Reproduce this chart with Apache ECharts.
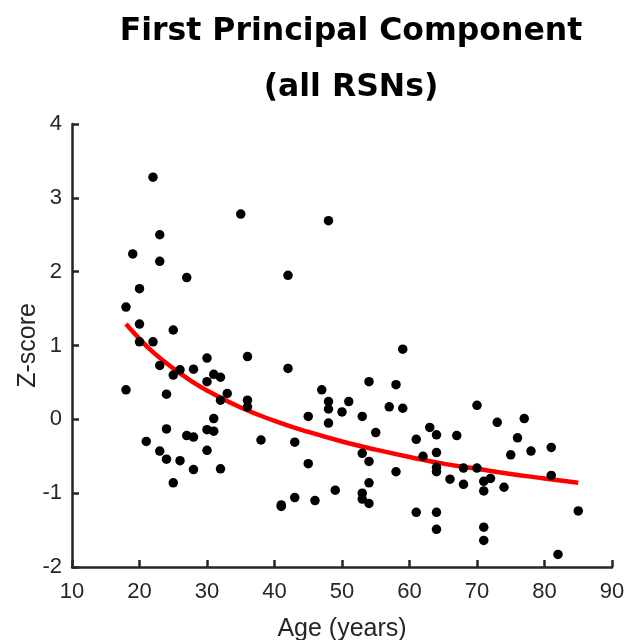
<!DOCTYPE html>
<html>
<head>
<meta charset="utf-8">
<script src="https://cdn.jsdelivr.net/npm/echarts@6/dist/echarts.min.js"></script>
<style>
  html, body { margin: 0; padding: 0; background: #ffffff; }
  #chart { width: 627px; height: 640px; }
</style>
</head>
<body>
<div id="chart"></div>
<script>
// Subject ages (years) and first principal component Z-scores
const ages = [
  22, 35, 48, 23, 19, 23, 42, 27, 20, 18,
  20, 25, 20, 22, 59, 30, 36, 23, 42, 28,
  26, 31, 25, 32, 30, 54, 58, 18, 47, 33,
  24, 36, 32, 48, 51, 36, 57, 70, 59, 48,
  50, 45, 53, 31, 77, 73, 48, 63, 24, 30,
  31, 55, 64, 67, 27, 28, 76, 61, 38, 21,
  43, 81, 30, 23, 78, 64, 53, 75, 62, 24,
  26, 54, 45, 64, 68, 70, 32, 28, 64, 58,
  81, 72, 66, 71, 25, 54, 68, 74, 49, 71,
  53, 43, 53, 46, 54, 41, 41, 85, 61, 64,
  71, 64, 71, 82
];
const zScores = [
  3.28, 2.78, 2.69, 2.50, 2.24, 2.14, 1.95, 1.92, 1.77, 1.52,
  1.29, 1.21, 1.05, 1.05, 0.95, 0.83, 0.85, 0.73, 0.69, 0.68,
  0.67, 0.61, 0.60, 0.57, 0.51, 0.51, 0.47, 0.40, 0.40, 0.35,
  0.34, 0.26, 0.26, 0.24, 0.24, 0.17, 0.17, 0.19, 0.15, 0.14,
  0.10, 0.04, 0.04, 0.01, 0.01, -0.04, -0.05, -0.11, -0.13, -0.14,
  -0.16, -0.18, -0.21, -0.22, -0.22, -0.24, -0.25, -0.27, -0.28, -0.30,
  -0.31, -0.38, -0.42, -0.43, -0.43, -0.45, -0.46, -0.48, -0.50, -0.54,
  -0.56, -0.57, -0.60, -0.65, -0.66, -0.66, -0.67, -0.68, -0.71, -0.71,
  -0.76, -0.80, -0.81, -0.84, -0.86, -0.86, -0.88, -0.92, -0.96, -0.97,
  -1.00, -1.06, -1.08, -1.10, -1.14, -1.16, -1.18, -1.24, -1.26, -1.26,
  -1.46, -1.49, -1.64, -1.83
];

// Fitted age trend
const fitAges = [18, 20, 22, 25, 28, 30, 35, 40, 45, 50, 55, 60, 65, 70, 75, 80, 85];
const fitValues = [1.29, 1.09, 0.91, 0.69, 0.50, 0.39, 0.16, -0.02, -0.17, -0.30, -0.41, -0.51, -0.60, -0.67, -0.74, -0.80, -0.86];

// Axis tick values
const xTicks = [10, 20, 30, 40, 50, 60, 70, 80, 90];
const yTicks = [-2, -1, 0, 1, 2, 3, 4];

const points = ages.map((a, i) => [a, zScores[i]]);
const fitLine = fitAges.map((a, i) => [a, fitValues[i]]);

const axisColor = '#262626';
const font = '"Liberation Sans", Arial, sans-serif';

const chart = echarts.init(document.getElementById('chart'), null, { renderer: 'canvas' });
chart.setOption({
  backgroundColor: '#ffffff',
  animation: false,
  title: {
    text: 'First Principal Component\n(all RSNs)',
    left: 346,
    top: -1,
    textAlign: 'center',
    textStyle: {
      fontFamily: '"DejaVu Sans", "Liberation Sans", sans-serif',
      fontWeight: 'bold',
      fontSize: 31.5,
      lineHeight: 56,
      color: '#000000'
    }
  },
  grid: { left: 72, right: 15, top: 124, bottom: 73, containLabel: false, outerBoundsMode: 'none' },
  xAxis: {
    type: 'value',
    min: xTicks[0],
    max: xTicks[xTicks.length - 1],
    interval: 10,
    name: 'Age (years)',
    nameLocation: 'middle',
    nameGap: 50,
    nameMoveOverlap: false,
    nameTextStyle: { fontFamily: font, fontSize: 25, color: axisColor },
    axisLine: { show: true, onZero: false, lineStyle: { color: axisColor, width: 2.5 } },
    axisTick: { show: true, inside: true, length: 7, lineStyle: { color: axisColor, width: 2.5 } },
    axisLabel: { fontFamily: font, fontSize: 22, color: axisColor, margin: 14 },
    splitLine: { show: false }
  },
  yAxis: {
    type: 'value',
    min: yTicks[0],
    max: yTicks[yTicks.length - 1],
    interval: 1,
    name: 'Z-score',
    nameLocation: 'middle',
    nameGap: 31,
    nameMoveOverlap: false,
    nameRotate: 90,
    nameTextStyle: { fontFamily: font, fontSize: 25, color: axisColor },
    axisLine: { show: true, onZero: false, lineStyle: { color: axisColor, width: 2.5 } },
    axisTick: { show: true, inside: true, length: 7, lineStyle: { color: axisColor, width: 2.5 } },
    axisLabel: { fontFamily: font, fontSize: 22, color: axisColor, margin: 10 },
    splitLine: { show: false }
  },
  series: [
    {
      name: 'fit',
      type: 'line',
      data: fitLine,
      smooth: true,
      showSymbol: false,
      lineStyle: { color: '#ff0000', width: 4.5 },
      z: 2
    },
    {
      name: 'subjects',
      type: 'scatter',
      data: points,
      symbol: 'circle',
      symbolSize: 9.5,
      itemStyle: { color: '#000000', opacity: 1 },
      z: 3
    }
  ]
});
</script>
</body>
</html>
